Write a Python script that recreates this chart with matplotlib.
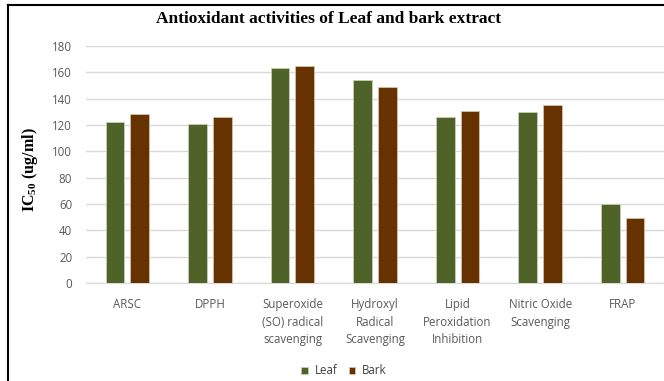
import numpy as np
import matplotlib
matplotlib.use('Agg')
import matplotlib.pyplot as plt
from matplotlib.lines import Line2D

categories = ['ARSC', 'DPPH', 'Superoxide\n(SO) radical\nscavenging',
              'Hydroxyl\nRadical\nScavenging', 'Lipid\nPeroxidation\nInhibition',
              'Nitric Oxide\nScavenging', 'FRAP']
leaf = [122, 121, 163, 154, 126, 130, 60]
bark = [128, 126, 165, 149, 131, 135, 49]
y_ticks = [0, 20, 40, 60, 80, 100, 120, 140, 160, 180]

plt.rcParams['mathtext.fontset'] = 'custom'
plt.rcParams['mathtext.rm'] = 'Liberation Serif:bold'
plt.rcParams['mathtext.bf'] = 'Liberation Serif:bold'

fig = plt.figure(figsize=(6.64, 3.81), dpi=100)
ax = fig.add_axes([86 / 664, 1 - 283 / 381, (664 - 86) / 664, (283 - 46) / 381])

x = np.arange(len(categories))
w = 0.226
ax.bar(x - 0.15, leaf, w, color='#4f6228', edgecolor='#c9cfb8', linewidth=0.6, label='Leaf', zorder=3)
ax.bar(x + 0.15, bark, w, color='#663300', edgecolor='#d8c0a8', linewidth=0.6, label='Bark', zorder=3)

ax.set_xlim(-0.5, len(categories) - 0.5)
ax.set_ylim(0, 180)
ax.set_yticks(y_ticks)
ax.set_xticks(x)
ax.set_xticklabels(categories, fontsize=8.3, color='#595959', family='Open Sans',
                   linespacing=1.45, va='top')
for lab in ax.get_yticklabels():
    lab.set_fontsize(8.3)
    lab.set_color('#595959')
    lab.set_family('Open Sans')
ax.tick_params(axis='both', length=0)
ax.tick_params(axis='y', pad=10)
ax.tick_params(axis='x', pad=11)
ax.grid(axis='y', color='#d9d9d9', linewidth=1, zorder=0)
for s in ['top', 'right', 'left']:
    ax.spines[s].set_visible(False)
ax.spines['bottom'].set_color('#d9d9d9')

fig.text(0.495, 1 - 19 / 381, 'Antioxidant activities of Leaf and bark extract',
         ha='center', va='center', family='Liberation Serif', weight='bold', fontsize=12.5)
fig.text(30 / 664, 1 - 170 / 381, r'IC$_{\mathbf{50}}$ (ug/ml)', rotation=90,
         ha='center', va='center', family='Liberation Serif', weight='bold', fontsize=11.5)

leg = fig.legend(loc='center', bbox_to_anchor=(344 / 664, 1 - 371 / 381), ncol=2, frameon=False,
                 handlelength=0.55, handleheight=0.55, handletextpad=0.6, columnspacing=1.0,
                 prop={'family': 'Open Sans', 'size': 8.3})
for t in leg.get_texts():
    t.set_color('#404040')

# outer frame (left and top edges)
fig.add_artist(Line2D([8 / 664, 8 / 664], [0, 1 - 5 / 381], color='black', linewidth=1.5, transform=fig.transFigure))
fig.add_artist(Line2D([8 / 664, 1], [1 - 5 / 381, 1 - 5 / 381], color='black', linewidth=1.5, transform=fig.transFigure))

plt.savefig('out.png', dpi=100)
